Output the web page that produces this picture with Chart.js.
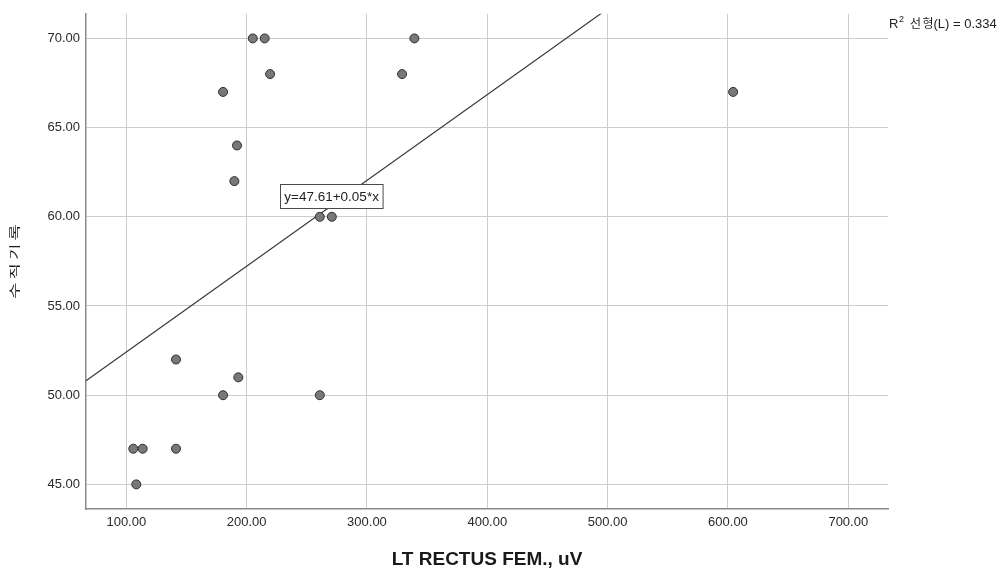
<!DOCTYPE html>
<html>
<head>
<meta charset="utf-8">
<script src="https://cdn.jsdelivr.net/npm/chart.js@4.4.1/dist/chart.umd.min.js"></script>
<style>
  html, body { margin: 0; padding: 0; background: #ffffff; }
  #wrap { width: 1005px; height: 570px; }
</style>
</head>
<body>
<div id="wrap"><canvas id="c" width="1005" height="570"></canvas></div>
<script>
// LT RECTUS FEM. EMG amplitude (uV) against the vertical jump record
const emgValues    = [205.1, 215.0, 339.4, 219.5, 329.2, 180.4, 604.3, 192.0, 189.8, 260.8, 270.8, 141.3, 193.1, 180.4, 260.8, 105.8, 113.6, 141.3, 108.3];
const recordValues = [70,    70,    70,    68,    68,    67,    67,    64,    62,    60,    60,    52,    51,    50,    50,    47,    47,    47,    45];

const xTickValues = [100, 200, 300, 400, 500, 600, 700];
const yTickValues = [45, 50, 55, 60, 65, 70];
const xRange = [66.5, 733.0];
const yRange = [43.62, 71.38];

// Linear fit
const fitIntercept = 47.61;
const fitSlope = 0.0481;
const rSquared = 0.334;
const fitLabelAnchor = [270.6, 61.16];

const xTitle = 'LT RECTUS FEM., uV';
const yTitle = '수직기록';

const LATIN = 'Arial, "Liberation Sans", sans-serif';
const KOREAN = '"Noto Sans CJK KR", "Noto Sans CJK SC", sans-serif';

const points = emgValues.map((v, i) => ({ x: v, y: recordValues[i] }));
const fitLine = xRange.map(x => ({ x: x, y: fitIntercept + fitSlope * x }));

const annotations = {
  id: 'annotations',
  afterDraw(chart) {
    const ctx = chart.ctx;
    const xs = chart.scales.x, ys = chart.scales.y;

    // equation label
    const eq = 'y=' + fitIntercept.toFixed(2) + '+' + fitSlope.toFixed(2) + '*x';
    ctx.save();
    ctx.font = '13.5px ' + LATIN;
    const w = ctx.measureText(eq).width;
    const cx = xs.getPixelForValue(fitLabelAnchor[0]);
    const cy = ys.getPixelForValue(fitLabelAnchor[1]);
    const bw = w + 8, bh = 24;
    const bx = Math.round(cx - bw / 2) + 0.5, by = Math.round(cy - bh / 2) + 0.5;
    ctx.fillStyle = '#ffffff';
    ctx.fillRect(bx, by, bw, bh);
    ctx.strokeStyle = '#4a4a4a';
    ctx.lineWidth = 1;
    ctx.strokeRect(bx, by, bw, bh);
    ctx.fillStyle = '#222222';
    ctx.textAlign = 'center';
    ctx.textBaseline = 'middle';
    ctx.fillText(eq, cx, cy + 1);
    ctx.restore();

    // R squared note
    ctx.save();
    ctx.fillStyle = '#222222';
    ctx.textBaseline = 'alphabetic';
    ctx.textAlign = 'left';
    let x = 889, base = 28;
    ctx.font = '13px ' + LATIN;
    ctx.fillText('R', x, base);
    x += ctx.measureText('R').width + 0.5;
    ctx.font = '9px ' + LATIN;
    ctx.fillText('2', x, base - 6);
    x += ctx.measureText('2').width + 6;
    ctx.font = '12px ' + KOREAN;
    ctx.fillText('선', x, base);
    x += ctx.measureText('선').width + 1.5;
    ctx.fillText('형', x, base);
    x += ctx.measureText('형').width;
    ctx.font = '13px ' + LATIN;
    ctx.fillText('(L) = ' + rSquared.toFixed(3), x, base);
    ctx.restore();

    // axis titles
    ctx.save();
    ctx.fillStyle = '#1a1a1a';
    ctx.font = 'bold 19px ' + LATIN;
    ctx.textAlign = 'center';
    ctx.textBaseline = 'alphabetic';
    ctx.fillText(xTitle, (chart.chartArea.left + chart.chartArea.right) / 2, 565);
    ctx.restore();

    ctx.save();
    ctx.fillStyle = '#1a1a1a';
    ctx.translate(15, 261.5);
    ctx.rotate(-Math.PI / 2);
    ctx.scale(1, 0.64);
    ctx.font = '17.5px ' + KOREAN;
    ctx.textAlign = 'center';
    ctx.textBaseline = 'middle';
    const chars = Array.from(yTitle);
    const step = 19.4;
    chars.forEach((ch, i) => {
      ctx.fillText(ch, (i - (chars.length - 1) / 2) * step, 0);
    });
    ctx.restore();
  }
};

new Chart(document.getElementById('c'), {
  type: 'scatter',
  data: {
    datasets: [
      {
        type: 'line',
        data: fitLine,
        borderColor: '#3a3a3a',
        borderWidth: 1.2,
        pointRadius: 0,
        fill: false,
        tension: 0,
        order: 2
      },
      {
        data: points,
        backgroundColor: '#787878',
        borderColor: '#2e2e2e',
        borderWidth: 1,
        pointRadius: 4.5,
        order: 1
      }
    ]
  },
  options: {
    responsive: false,
    animation: false,
    devicePixelRatio: 1,
    layout: { padding: { left: 0, top: 12, right: 117, bottom: 0 } },
    plugins: {
      legend: { display: false },
      tooltip: { enabled: false }
    },
    scales: {
      x: {
        type: 'linear',
        min: xRange[0],
        max: xRange[1],
        afterBuildTicks: s => { s.ticks = xTickValues.map(v => ({ value: v })); },
        afterFit: s => { s.height = 61; },
        ticks: {
          padding: 6,
          color: '#2a2a2a',
          font: { family: LATIN, size: 13 },
          maxRotation: 0,
          callback: v => Number(v).toFixed(2)
        },
        grid: { color: '#cccccc', lineWidth: 1, drawTicks: false },
        border: { color: '#8a8a8a', width: 1.5 }
      },
      y: {
        type: 'linear',
        min: yRange[0],
        max: yRange[1],
        afterBuildTicks: s => { s.ticks = yTickValues.map(v => ({ value: v })); },
        afterFit: s => { s.width = 86; },
        ticks: {
          padding: 6,
          color: '#2a2a2a',
          font: { family: LATIN, size: 13 },
          callback: v => Number(v).toFixed(2)
        },
        grid: { color: '#cccccc', lineWidth: 1, drawTicks: false },
        border: { color: '#8a8a8a', width: 1.5 }
      }
    }
  },
  plugins: [annotations]
});
</script>
</body>
</html>
